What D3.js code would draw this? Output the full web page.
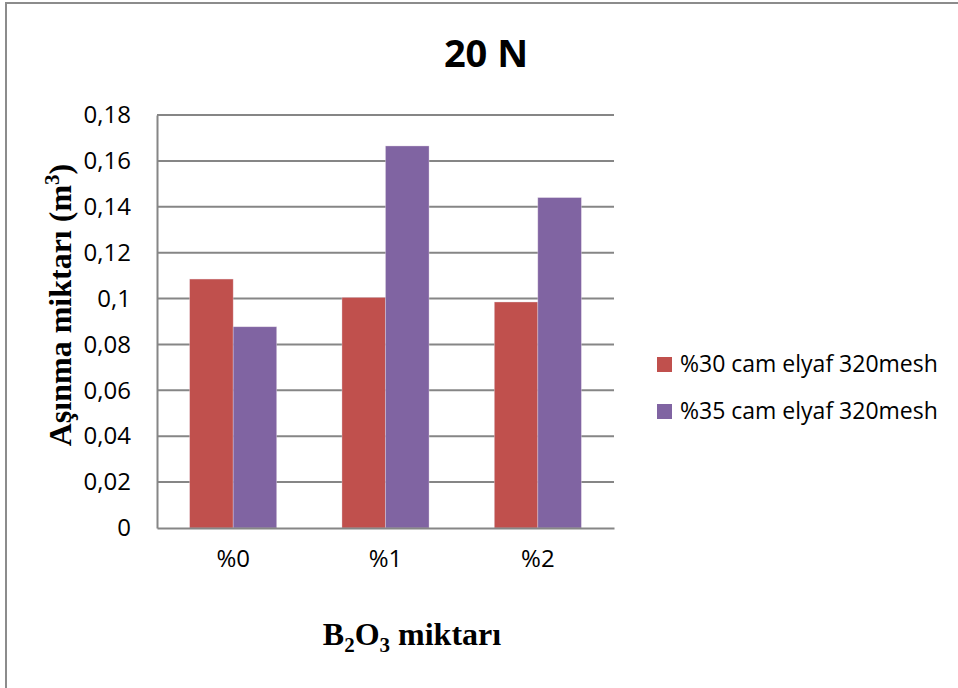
<!DOCTYPE html>
<html>
<head>
<meta charset="utf-8">
<script src="https://cdn.jsdelivr.net/npm/d3@7"></script>
<style>
  html, body { margin: 0; padding: 0; background: #fff; }
  svg { display: block; }
</style>
</head>
<body>
<svg id="chart" width="958" height="688"></svg>
<script>
// Wear amount under a 20 N load, by B2O3 content and glass-fibre ratio
const categories = ["%0", "%1", "%2"];
const seriesNames = ["%30 cam elyaf 320mesh", "%35 cam elyaf 320mesh"];
const series30 = [0.1085, 0.1005, 0.0985];
const series35 = [0.0877, 0.1665, 0.1440];
const yTicks = [0, 0.02, 0.04, 0.06, 0.08, 0.1, 0.12, 0.14, 0.16, 0.18];
const colors = ["#C0504D", "#8064A2"];

const seriesValues = [series30, series35];
const sansFont = "'Open Sans', 'Liberation Sans', sans-serif";
const serifFont = "'Liberation Serif', 'Times New Roman', serif";
const gridColor = "#868686";

const svg = d3.select("#chart");

// Outer chart frame
svg.append("rect")
  .attr("x", 6).attr("y", 3)
  .attr("width", 1000).attr("height", 1000)
  .attr("fill", "#fff")
  .attr("stroke", "#8c8c8c")
  .attr("stroke-width", 2);

const plot = { left: 157, right: 614, top: 115, bottom: 528 };

const x0 = d3.scaleBand()
  .domain(categories)
  .range([plot.left, plot.right])
  .padding(0);

const x1 = d3.scaleBand()
  .domain(d3.range(seriesNames.length))
  .range([0, x0.bandwidth()])
  .paddingInner(0)
  .paddingOuter(0.75);

const y = d3.scaleLinear()
  .domain([0, 0.18])
  .range([plot.bottom, plot.top]);

const fmt = v => String(+v.toFixed(2)).replace(".", ",");

// Horizontal gridlines
svg.append("g")
  .selectAll("line")
  .data(yTicks.filter(t => t > 0))
  .join("line")
  .attr("x1", plot.left).attr("x2", plot.right)
  .attr("y1", d => y(d)).attr("y2", d => y(d))
  .attr("stroke", gridColor)
  .attr("stroke-width", 2);

// Bars
const groups = svg.append("g")
  .selectAll("g")
  .data(categories)
  .join("g")
  .attr("transform", d => `translate(${x0(d)},0)`);

groups.selectAll("rect")
  .data((c, i) => seriesValues.map((vals, s) => ({ s, v: vals[i] })))
  .join("rect")
  .attr("x", d => x1(d.s))
  .attr("width", x1.bandwidth())
  .attr("y", d => y(d.v))
  .attr("height", d => y(0) - y(d.v))
  .attr("fill", d => colors[d.s])
  .attr("stroke", "#e8dde8")
  .attr("stroke-width", 0.6)
  .attr("stroke-opacity", 0.6);

// Y axis
const yAxis = svg.append("g")
  .attr("transform", `translate(${plot.left},0)`)
  .call(d3.axisLeft(y).tickValues(yTicks).tickFormat(fmt).tickSize(0).tickPadding(26));
yAxis.select(".domain").attr("stroke", gridColor).attr("stroke-width", 2);
yAxis.selectAll("text")
  .attr("font-family", sansFont)
  .attr("font-size", 24)
  .attr("fill", "#000");

// X axis
const xAxis = svg.append("g")
  .attr("transform", `translate(0,${plot.bottom})`)
  .call(d3.axisBottom(x0).tickSize(0).tickPadding(22));
xAxis.select(".domain").attr("stroke", gridColor).attr("stroke-width", 2);
xAxis.selectAll("text")
  .attr("font-family", sansFont)
  .attr("font-size", 24)
  .attr("fill", "#000");

// Title
svg.append("text")
  .attr("x", 486).attr("y", 67)
  .attr("text-anchor", "middle")
  .attr("font-family", sansFont)
  .attr("font-weight", "bold")
  .attr("font-size", 38)
  .text("20 N");

// Y axis title
const yTitle = svg.append("text")
  .attr("transform", "translate(71,305) rotate(-90)")
  .attr("text-anchor", "middle")
  .attr("font-family", serifFont)
  .attr("font-weight", "bold")
  .attr("font-size", 32);
yTitle.append("tspan").text("Aşınma miktarı (m");
yTitle.append("tspan").attr("font-size", 21).attr("dy", -12).text("3");
yTitle.append("tspan").attr("dy", 12).text(")");

// X axis title
const xTitle = svg.append("text")
  .attr("x", 412).attr("y", 645)
  .attr("text-anchor", "middle")
  .attr("font-family", serifFont)
  .attr("font-weight", "bold")
  .attr("font-size", 32);
xTitle.append("tspan").text("B");
xTitle.append("tspan").attr("font-size", 21).attr("dy", 7).text("2");
xTitle.append("tspan").attr("dy", -7).text("O");
xTitle.append("tspan").attr("font-size", 21).attr("dy", 7).text("3");
xTitle.append("tspan").attr("dy", -7).text(" miktarı");

// Legend
const legend = svg.append("g")
  .selectAll("g")
  .data(seriesNames)
  .join("g")
  .attr("transform", (d, i) => `translate(657,${357 + i * 47})`);
legend.append("rect")
  .attr("width", 15).attr("height", 15)
  .attr("fill", (d, i) => colors[i]);
legend.append("text")
  .attr("x", 23).attr("y", 15)
  .attr("font-family", sansFont)
  .attr("font-size", 23)
  .attr("fill", "#000")
  .text(d => d);
</script>
</body>
</html>
